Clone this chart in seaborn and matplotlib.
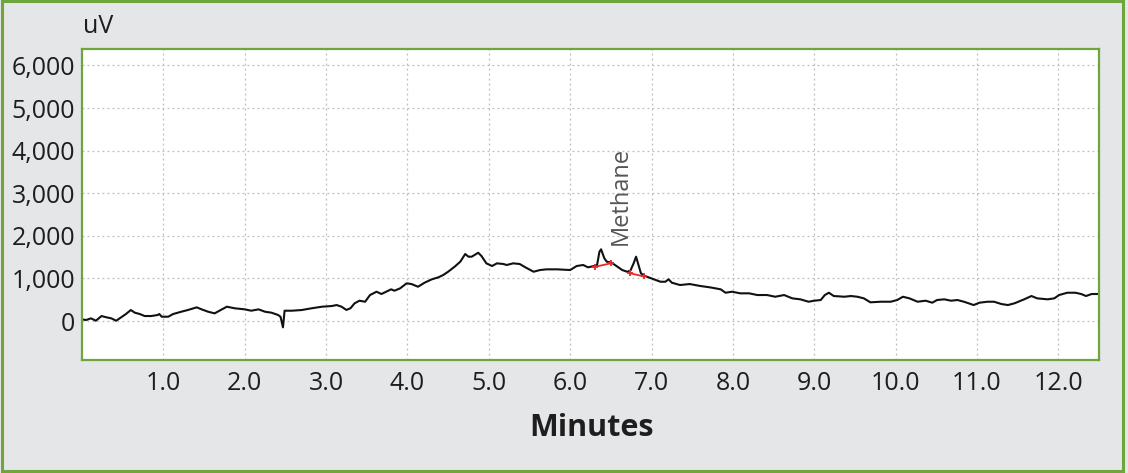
import matplotlib
matplotlib.use("Agg")
import matplotlib.pyplot as plt
from matplotlib.patches import Rectangle
import seaborn as sns
import pandas as pd

# ---- data ----
time_min = [0.00, 0.05, 0.11, 0.17, 0.24, 0.30, 0.36, 0.42, 0.48, 0.54, 0.60, 0.65, 0.71,
            0.77, 0.85, 0.93, 0.95, 0.98, 1.06, 1.12, 1.22, 1.30, 1.41, 1.47, 1.55, 1.63,
            1.69, 1.78, 1.88, 2.00, 2.08, 2.17, 2.25, 2.33, 2.41, 2.44, 2.47, 2.49, 2.58,
            2.70, 2.82, 2.95, 3.07, 3.13, 3.19, 3.25, 3.30, 3.35, 3.41, 3.48, 3.54, 3.62,
            3.68, 3.74, 3.80, 3.84, 3.91, 3.99, 4.05, 4.13, 4.21, 4.30, 4.38, 4.44, 4.50,
            4.58, 4.65, 4.71, 4.75, 4.79, 4.87, 4.91, 4.97, 5.04, 5.10, 5.18, 5.22, 5.30,
            5.38, 5.45, 5.55, 5.63, 5.71, 5.84, 6.00, 6.08, 6.16, 6.22, 6.29, 6.33, 6.36,
            6.38, 6.42, 6.45, 6.51, 6.58, 6.64, 6.70, 6.74, 6.78, 6.81, 6.84, 6.87, 6.92,
            7.03, 7.11, 7.17, 7.21, 7.25, 7.35, 7.47, 7.60, 7.72, 7.85, 7.91, 7.99, 8.09,
            8.20, 8.30, 8.42, 8.52, 8.63, 8.73, 8.83, 8.93, 9.00, 9.08, 9.13, 9.18, 9.24,
            9.37, 9.45, 9.53, 9.61, 9.69, 9.82, 9.94, 10.02, 10.09, 10.17, 10.27, 10.37,
            10.45, 10.51, 10.60, 10.68, 10.76, 10.84, 10.90, 10.96, 11.03, 11.13, 11.21,
            11.30, 11.38, 11.46, 11.58, 11.67, 11.74, 11.87, 11.95, 12.01, 12.11, 12.21,
            12.28, 12.34, 12.41, 12.50]
signal_uv = [40, 23, 63, 7, 117, 87, 63, 7, 87, 164, 258, 195, 164,
             117, 117, 141, 164, 101, 101, 164, 218, 258, 321, 274, 218, 180,
             242, 336, 298, 274, 242, 274, 218, 195, 141, 101, -148, 242, 242,
             258, 298, 336, 352, 375, 336, 260, 300, 415, 477, 453, 610, 688,
             634, 688, 744, 711, 767, 885, 868, 805, 899, 979, 1025, 1080, 1157,
             1275, 1393, 1573, 1510, 1510, 1603, 1526, 1354, 1291, 1354, 1338, 1315, 1354,
             1338, 1260, 1157, 1197, 1213, 1213, 1197, 1291, 1315, 1260, 1291, 1307, 1627,
             1683, 1472, 1393, 1369, 1275, 1197, 1157, 1181, 1354, 1510, 1315, 1119, 1056,
             979, 922, 922, 979, 899, 845, 868, 822, 790, 744, 664, 688, 650,
             650, 610, 610, 570, 610, 532, 509, 453, 477, 493, 610, 664, 587,
             570, 587, 570, 532, 439, 453, 453, 493, 570, 532, 453, 477,
             430, 493, 509, 477, 493, 453, 415, 375, 430, 453, 453,
             399, 375, 415, 509, 587, 532, 509, 532, 610, 664, 664,
             634, 587, 634, 634]

# integration baselines (peak start/end)
base1_t = [6.31, 6.50]
base1_v = [1275, 1354]
base2_t = [6.74, 6.91]
base2_v = [1119, 1045]

peak_label = "Methane"
peak_label_t = 6.62
peak_label_v = 1790

x_ticks = [1.0, 2.0, 3.0, 4.0, 5.0, 6.0, 7.0, 8.0, 9.0, 10.0, 11.0, 12.0]
y_ticks = [0, 1000, 2000, 3000, 4000, 5000, 6000]

# ---- style ----
GREEN = "#6ea53c"
BG = "#e5e6e8"
TXT = "#1e1e1e"

sns.set_theme(style="white")
plt.rcParams["font.family"] = ["Open Sans", "DejaVu Sans"]

fig = plt.figure(figsize=(11.28, 4.73), dpi=100, facecolor=BG)
ax = fig.add_axes([82 / 1128, 1 - 360 / 473, (1099 - 82) / 1128, (360 - 49) / 473])
ax.set_facecolor("white")

df = pd.DataFrame({"t": time_min, "v": signal_uv})
sns.lineplot(data=df, x="t", y="v", ax=ax, color="#111111", linewidth=1.5, sort=False)

for bt, bv in [(base1_t, base1_v), (base2_t, base2_v)]:
    bdf = pd.DataFrame({"t": bt, "v": bv})
    sns.lineplot(data=bdf, x="t", y="v", ax=ax, color="#e8282b", linewidth=1.3,
                 marker="+", markersize=5, markeredgewidth=1.3,
                 markeredgecolor="#e8282b", sort=False, zorder=3)

ax.text(peak_label_t, peak_label_v, peak_label, rotation=90, ha="center", va="bottom",
        fontsize=17, color="#555555")

ax.set_xlim(0, 12.5)
ax.set_ylim(-915, 6385)
ax.set_xticks(x_ticks)
ax.set_xticklabels([f"{v:.1f}" for v in x_ticks])
ax.set_yticks(y_ticks)
ax.set_yticklabels([f"{v:,}" for v in y_ticks])
ax.tick_params(axis="both", length=0, labelsize=18, labelcolor=TXT)
ax.tick_params(axis="x", pad=8)
ax.tick_params(axis="y", pad=5)
ax.set_xlabel("")
ax.set_ylabel("")
ax.grid(True, color="#bdbdbd", linestyle=(0, (1.5, 2.5)), linewidth=0.9)
for s in ax.spines.values():
    s.set_color(GREEN)
    s.set_linewidth(1.6)
    s.set_visible(True)

fig.text(83 / 1128, 1 - 33 / 473, "uV", fontsize=18, color=TXT, ha="left", va="baseline")
fig.text(591 / 1128, 1 - 428 / 473, "Minutes", fontsize=22, fontweight="bold",
         color=TXT, ha="center", va="center")

fig.patches.append(Rectangle((1.5 / 1128, 2 / 473), 1121.5 / 1128, 469.5 / 473,
                             transform=fig.transFigure, fill=False, edgecolor=GREEN,
                             linewidth=2.2, zorder=10))

fig.savefig("out.png", dpi=100, facecolor=BG)
